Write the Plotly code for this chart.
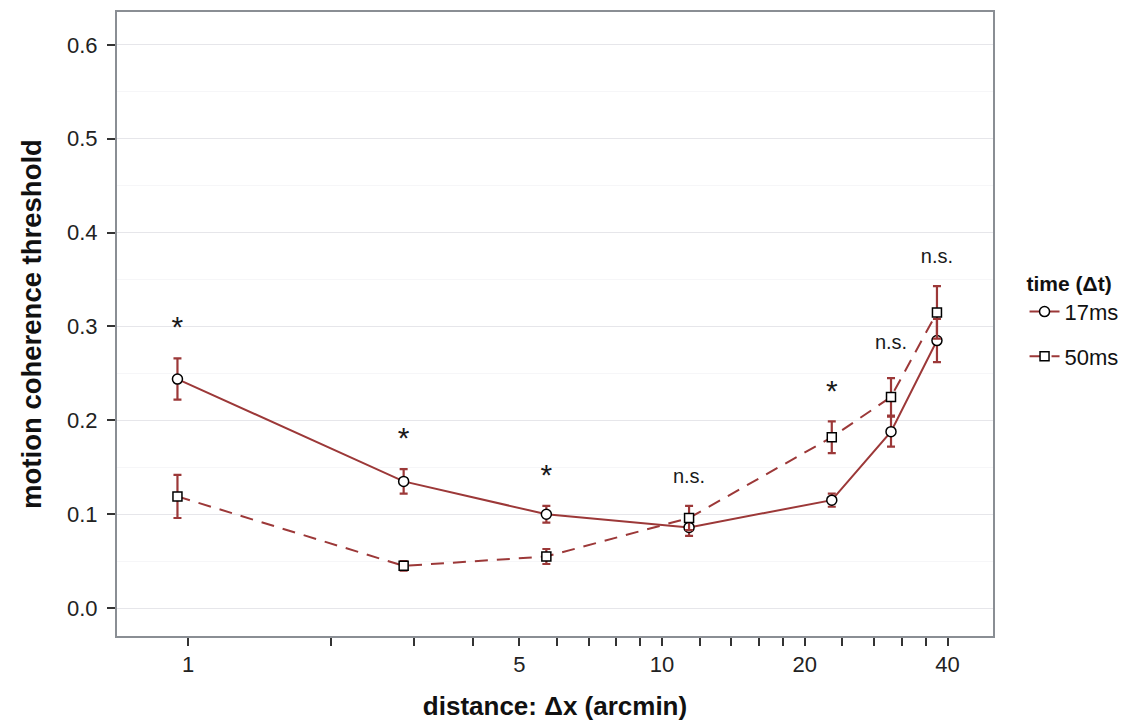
import plotly.graph_objects as go

# distances (arcmin)
distance = [0.95, 2.85, 5.7, 11.4, 22.8, 30.4, 38.0]

# 17 ms series
thr_17 = [0.244, 0.135, 0.100, 0.086, 0.115, 0.188, 0.285]
err_17 = [0.022, 0.013, 0.009, 0.009, 0.007, 0.016, 0.023]

# 50 ms series
thr_50 = [0.119, 0.045, 0.055, 0.096, 0.182, 0.225, 0.315]
err_50 = [0.023, 0.005, 0.008, 0.013, 0.017, 0.020, 0.028]

# significance labels
sig_labels = ["*", "*", "*", "n.s.", "*", "n.s.", "n.s."]
sig_y = [0.297, 0.179, 0.139, 0.139, 0.229, 0.281, 0.373]

# axis ticks
x_tickvals = [1, 2, 3, 4, 5, 6, 7, 8, 9, 10, 12, 14, 16, 18, 20, 24, 28, 32, 36, 40]
x_labelled = {1: "1", 5: "5", 10: "10", 20: "20", 40: "40"}
y_tickvals = [0.0, 0.1, 0.2, 0.3, 0.4, 0.5, 0.6]

LINE = "#9c3838"
FONT = "Liberation Sans, Arial, Helvetica, sans-serif"

fig = go.Figure()

fig.add_trace(go.Scatter(
    x=distance, y=thr_17, name="17ms", mode="lines+markers", legendgroup="a",
    line=dict(color=LINE, width=2),
    marker=dict(symbol="circle", size=10, color="white", line=dict(color="black", width=1.5)),
    error_y=dict(type="data", array=err_17, color=LINE, thickness=2.2, width=4),
))
fig.add_trace(go.Scatter(
    x=distance, y=thr_50, name="50ms", mode="lines+markers", legendgroup="b",
    line=dict(color=LINE, width=2, dash="13px,9px"),
    marker=dict(symbol="square", size=9, color="white", line=dict(color="black", width=1.5)),
    error_y=dict(type="data", array=err_50, color=LINE, thickness=2.2, width=4),
))
fig.add_trace(go.Scatter(
    x=distance, y=sig_y, mode="text", text=sig_labels, showlegend=False,
    textfont=dict(family=FONT, size=[30 if s == "*" else 20 for s in sig_labels], color="#1a1a1a"),
    hoverinfo="skip",
))

fig.update_layout(
    width=1122, height=713,
    margin=dict(l=109, r=137, t=2, b=85),
    paper_bgcolor="white", plot_bgcolor="white",
    font=dict(family=FONT, color="#222222"),
    showlegend=True,
    legend=dict(
        title=dict(text="<b>time (Δt)</b>", font=dict(size=21, color="#111111")),
        font=dict(size=22, color="#111111"),
        x=1.036, xanchor="left", y=0.597, yanchor="top",
        itemwidth=30, tracegroupgap=13, bgcolor="rgba(0,0,0,0)",
        traceorder="grouped",
    ),
    xaxis=dict(
        type="log", range=[-0.1498, 1.698],
        tickvals=x_tickvals,
        ticktext=[x_labelled.get(v, "") for v in x_tickvals],
        ticks="outside", ticklen=8, tickwidth=2, tickcolor="#333333",
        tickfont=dict(size=22, color="#222222"),
        showgrid=False, zeroline=False,
        showline=True, linecolor="#8a8e94", linewidth=2, mirror=True,
        title=dict(text="<b>distance: Δx (arcmin)</b>", font=dict(size=26, color="#111111"), standoff=20),
    ),
    yaxis=dict(
        range=[-0.0297, 0.635],
        tickvals=y_tickvals, tickformat=".1f",
        ticks="outside", ticklen=8, tickwidth=2, tickcolor="#333333",
        tickfont=dict(size=22, color="#222222"),
        ticklabelstandoff=5,
        showgrid=True, gridcolor="#e6e6ea", gridwidth=1.3,
        minor=dict(dtick=0.1, tick0=0.05, showgrid=True, gridcolor="#f6f6f8", gridwidth=1.3, ticks=""),
        zeroline=False,
        showline=True, linecolor="#8a8e94", linewidth=2, mirror=True,
        title=dict(text="<b>motion coherence threshold</b>", font=dict(size=27.5, color="#111111"), standoff=17),
    ),
)

fig.write_html("out.html")
